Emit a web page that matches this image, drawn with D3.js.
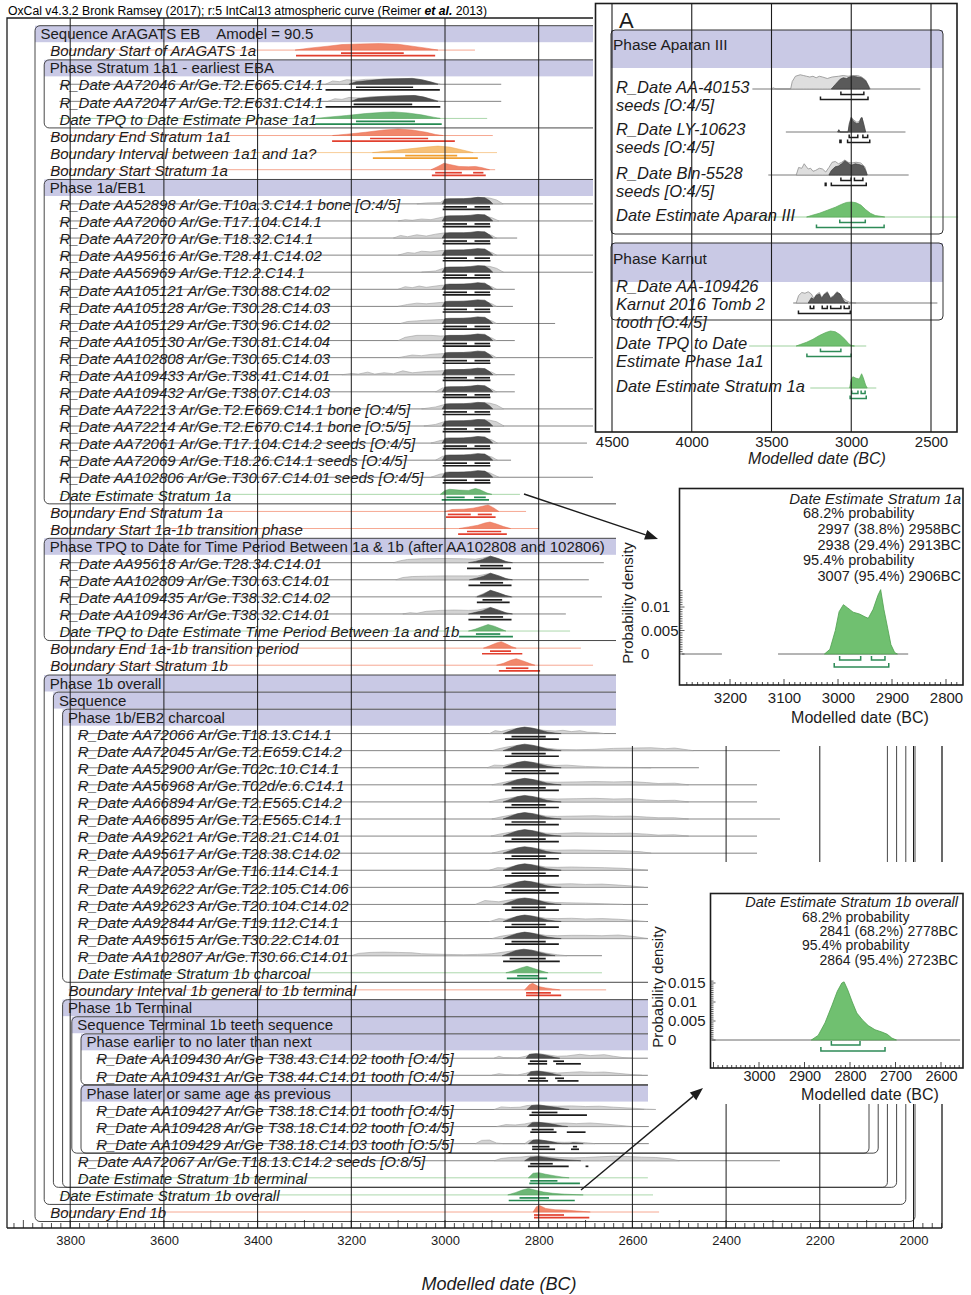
<!DOCTYPE html>
<html>
<head>
<meta charset="utf-8">
<script src="https://cdn.jsdelivr.net/npm/d3@7"></script>
<style>
  body { margin: 0; background: #fff; }
  svg { display: block; font-family: "Liberation Sans", Arial, sans-serif; }
</style>
</head>
<body>
<svg id="chart" width="971" height="1295"></svg>
<script>
// ---------- data ----------
const mainTicks = [3800, 3600, 3400, 3200, 3000, 2800, 2600, 2400, 2200, 2000];

const rowLabels = [
  "Sequence ArAGATS EB    Amodel = 90.5",
  "Boundary Start of ArAGATS 1a",
  "Phase Stratum 1a1 - earliest EBA",
  "R_Date AA72046 Ar/Ge.T2.E665.C14.1",
  "R_Date AA72047 Ar/Ge.T2.E631.C14.1",
  "Date TPQ to Date Estimate Phase 1a1",
  "Boundary End Stratum 1a1",
  "Boundary Interval between 1a1 and 1a?",
  "Boundary Start Stratum 1a",
  "Phase 1a/EB1",
  "R_Date AA52898 Ar/Ge.T10a.3.C14.1 bone [O:4/5]",
  "R_Date AA72060 Ar/Ge.T17.104.C14.1",
  "R_Date AA72070 Ar/Ge.T18.32.C14.1",
  "R_Date AA95616 Ar/Ge.T28.41.C14.02",
  "R_Date AA56969 Ar/Ge.T12.2.C14.1",
  "R_Date AA105121 Ar/Ge.T30.88.C14.02",
  "R_Date AA105128 Ar/Ge.T30.28.C14.03",
  "R_Date AA105129 Ar/Ge.T30.96.C14.02",
  "R_Date AA105130 Ar/Ge.T30.81.C14.04",
  "R_Date AA102808 Ar/Ge.T30.65.C14.03",
  "R_Date AA109433 Ar/Ge.T38.41.C14.01",
  "R_Date AA109432 Ar/Ge.T38.07.C14.03",
  "R_Date AA72213 Ar/Ge.T2.E669.C14.1 bone [O:4/5]",
  "R_Date AA72214 Ar/Ge.T2.E670.C14.1 bone [O:5/5]",
  "R_Date AA72061 Ar/Ge.T17.104.C14.2 seeds [O:4/5]",
  "R_Date AA72069 Ar/Ge.T18.26.C14.1 seeds [O:4/5]",
  "R_Date AA102806 Ar/Ge.T30.67.C14.01 seeds [O:4/5]",
  "Date Estimate Stratum 1a",
  "Boundary End Stratum 1a",
  "Boundary Start 1a-1b transition phase",
  "Phase TPQ to Date for Time Period Between 1a & 1b (after AA102808 and 102806)",
  "R_Date AA95618 Ar/Ge.T28.34.C14.01",
  "R_Date AA102809 Ar/Ge.T30.63.C14.01",
  "R_Date AA109435 Ar/Ge.T38.32.C14.02",
  "R_Date AA109436 Ar/Ge.T38.32.C14.01",
  "Date TPQ to Date Estimate Time Period Between 1a and 1b",
  "Boundary End 1a-1b transition period",
  "Boundary Start Stratum 1b",
  "Phase 1b overall",
  "Sequence",
  "Phase 1b/EB2 charcoal",
  "R_Date AA72066 Ar/Ge.T18.13.C14.1",
  "R_Date AA72045 Ar/Ge.T2.E659.C14.2",
  "R_Date AA52900 Ar/Ge.T02c.10.C14.1",
  "R_Date AA56968 Ar/Ge.T02d/e.6.C14.1",
  "R_Date AA66894 Ar/Ge.T2.E565.C14.2",
  "R_Date AA66895 Ar/Ge.T2.E565.C14.1",
  "R_Date AA92621 Ar/Ge.T28.21.C14.01",
  "R_Date AA95617 Ar/Ge.T28.38.C14.02",
  "R_Date AA72053 Ar/Ge.T16.114.C14.1",
  "R_Date AA92622 Ar/Ge.T22.105.C14.06",
  "R_Date AA92623 Ar/Ge.T20.104.C14.02",
  "R_Date AA92844 Ar/Ge.T19.112.C14.1",
  "R_Date AA95615 Ar/Ge.T30.22.C14.01",
  "R_Date AA102807 Ar/Ge.T30.66.C14.01",
  "Date Estimate Stratum 1b charcoal",
  "Boundary Interval 1b general to 1b terminal",
  "Phase 1b Terminal",
  "Sequence Terminal 1b teeth sequence",
  "Phase earlier to no later than next",
  "R_Date AA109430 Ar/Ge T38.43.C14.02 tooth [O:4/5]",
  "R_Date AA109431 Ar/Ge T38.44.C14.01 tooth [O:4/5]",
  "Phase later or same age as previous",
  "R_Date AA109427 Ar/Ge T38.18.C14.01 tooth [O:4/5]",
  "R_Date AA109428 Ar/Ge T38.18.C14.02 tooth [O:4/5]",
  "R_Date AA109429 Ar/Ge T38.18.C14.03 tooth [O:5/5]",
  "R_Date AA72067 Ar/Ge.T18.13.C14.2 seeds [O:8/5]",
  "Date Estimate Stratum 1b terminal",
  "Date Estimate Stratum 1b overall",
  "Boundary End 1b"
];

// kind letter + nesting depth (G group, B boundary, I interval, R R_Date, E estimate)
const rowKinds = [
  "G0", "B1", "G1", "R2", "R2", "E2", "B1", "I1", "B1", "G1",
  "R2", "R2", "R2", "R2", "R2", "R2", "R2", "R2", "R2", "R2",
  "R2", "R2", "R2", "R2", "R2", "R2", "R2", "E2", "B1", "B1",
  "G1", "R2", "R2", "R2", "R2", "E2", "B1", "B1", "G1", "G2",
  "G3", "R4", "R4", "R4", "R4", "R4", "R4", "R4", "R4", "R4",
  "R4", "R4", "R4", "R4", "R4", "E4", "B3", "G3", "G4", "G5",
  "R6", "R6", "G5", "R6", "R6", "R6", "R4", "E4", "E2", "B1"
];

// year (BC) where each row's line ends
const lineEnd = [
  null, 2936, null, 2880, 2880, 2910, 2898, 2889, 2893, null,
  2650, 2650, 2846, 2650, 2650, 2851, 2855, 2765, 2851, 2650,
  2851, 2851, 2650, 2650, 2697, 2859, 2650, 2840, 2827, 2799,
  null, 2661, 2693, 2665, 2742, 2733, 2710, 2684, null, null,
  null, 2560, 2285, 2458, 2334, 2334, 2285, 2334, 2334, 2562,
  2562, 2450, 2450, 2567, 2665, 2665, 2656, null, null, null,
  2567, 2567, null, 2575, 2565, 2565, 2285, 2567, 2556, 2543
];

// shared shapes: [year, relative height, ...]
const dark1a = [3006,0, 3000,0.75, 2990,0.8, 2960,0.8, 2945,0.85, 2930,1.0, 2915,0.95, 2905,0.5, 2898,0];
const dark1b = [2876,0, 2863,0.35, 2846,0.8, 2830,1.0, 2815,0.85, 2798,0.55, 2782,0.25, 2765,0.08, 2752,0];
const r68_1a = [[3003,2953],[2937,2904]];
const r95_1a = [[3005,2903]];
const r68_1b = [[2858,2785]];
const r95_1b = [[2872,2757]];

// modelled (or boundary / estimate) distribution per row
const mainShape = [
  null,
  [3320,0, 3290,0.3, 3250,0.6, 3220,0.85, 3180,0.95, 3140,1.0, 3100,0.9, 3070,0.6, 3040,0.3, 3015,0],
  null,
  [3205,0, 3190,0.4, 3160,0.6, 3130,0.8, 3100,0.85, 3070,0.9, 3050,0.7, 3030,0.35, 3015,0],
  [3200,0, 3185,0.45, 3150,0.65, 3120,0.8, 3090,0.85, 3065,0.9, 3045,0.65, 3028,0.3, 3015,0],
  [3275,0, 3250,0.2, 3210,0.45, 3170,0.75, 3130,0.95, 3110,1.0, 3080,0.85, 3050,0.55, 3025,0.2, 3010,0],
  [3240,0, 3210,0.2, 3170,0.5, 3130,0.85, 3100,1.0, 3070,0.85, 3040,0.5, 3020,0.15, 3004,0],
  [3155,0, 3120,0.25, 3080,0.55, 3040,0.85, 3015,1.0, 2990,0.85, 2965,0.45, 2940,0],
  [3030,0, 3015,0.5, 3002,1.0, 2990,0.8, 2970,0.5, 2950,0.45, 2935,0.5, 2920,0.3, 2905,0],
  null,
  dark1a, dark1a, dark1a, dark1a, dark1a, dark1a, dark1a, dark1a, dark1a, dark1a,
  dark1a, dark1a, dark1a, dark1a, dark1a, dark1a, dark1a,
  [3010,0, 3000,0.6, 2990,0.78, 2970,0.65, 2950,0.6, 2935,0.9, 2925,0.7, 2910,0.2, 2900,0],
  [3000,0, 2985,0.3, 2960,0.35, 2940,0.5, 2920,0.8, 2908,1.0, 2895,0.5, 2885,0],
  [2970,0, 2950,0.25, 2930,0.5, 2915,0.85, 2904,1.0, 2890,0.7, 2875,0.3, 2860,0],
  null,
  [2950,0, 2935,0.2, 2920,0.5, 2903,1.0, 2885,0.6, 2870,0.2, 2856,0],
  [2948,0, 2933,0.25, 2918,0.55, 2903,1.0, 2885,0.6, 2870,0.2, 2856,0],
  [2932,0, 2918,0.4, 2903,1.0, 2885,0.6, 2870,0.2, 2858,0],
  [2950,0, 2935,0.25, 2920,0.5, 2903,1.0, 2885,0.55, 2870,0.2, 2856,0],
  [2950,0, 2935,0.3, 2920,0.7, 2908,1.0, 2895,0.75, 2880,0.3, 2870,0],
  [2918,0, 2905,0.35, 2890,0.8, 2880,1.0, 2868,0.6, 2858,0.25, 2848,0],
  [2890,0, 2875,0.3, 2860,0.75, 2848,1.0, 2835,0.7, 2820,0.3, 2808,0],
  null, null, null,
  dark1b, dark1b, dark1b, dark1b, dark1b, dark1b, dark1b,
  dark1b, dark1b, dark1b, dark1b, dark1b, dark1b,
  [2878,0, 2865,0.35, 2848,0.8, 2832,1.0, 2815,0.85, 2798,0.5, 2780,0.2, 2765,0],
  [2870,0, 2855,0.3, 2838,0.75, 2825,1.0, 2812,0.7, 2795,0.3, 2780,0],
  [2830,0, 2820,0.8, 2813,1.0, 2800,0.5, 2785,0.3, 2770,0.15, 2755,0],
  null, null, null,
  [2827,0, 2820,0.6, 2805,0.7, 2790,0.55, 2775,0.3, 2765,0.1, 2755,0],
  [2825,0, 2817,0.55, 2803,0.65, 2788,0.5, 2773,0.3, 2762,0.1, 2752,0],
  null,
  [2825,0, 2815,0.6, 2800,0.7, 2780,0.5, 2760,0.3, 2745,0.1, 2735,0],
  [2824,0, 2814,0.6, 2800,0.65, 2782,0.5, 2765,0.3, 2750,0.1, 2738,0],
  [2822,0, 2812,0.55, 2800,0.6, 2785,0.45, 2770,0.25, 2760,0.1, 2750,0, 2735,0, 2728,0.15, 2715,0.1, 2705,0],
  [2830,0, 2818,0.55, 2800,0.65, 2785,0.5, 2765,0.3, 2745,0.15, 2720,0.05, 2710,0],
  [2822,0, 2812,0.7, 2800,0.8, 2785,0.55, 2765,0.3, 2748,0.1, 2735,0],
  [2866,0, 2850,0.35, 2835,0.75, 2822,1.0, 2808,0.75, 2790,0.45, 2770,0.25, 2745,0.12, 2720,0.04, 2705,0],
  [2812,0, 2805,0.8, 2798,1.0, 2785,0.55, 2765,0.35, 2745,0.3, 2725,0.2, 2705,0.08, 2690,0]
];

// unmodelled calibrated distribution (R_Date rows only)
const lightShape = [
  null, null, null,
  [3255,0, 3240,0.5, 3225,0.4, 3210,0.7, 3190,0.6, 3170,0.75, 3130,0.8, 3100,0.85, 3070,0.9, 3050,0.7, 3030,0.35, 3010,0],
  [3250,0, 3235,0.4, 3220,0.3, 3205,0.6, 3180,0.5, 3160,0.7, 3120,0.8, 3090,0.85, 3065,0.9, 3045,0.65, 3028,0.3, 3010,0],
  null, null, null, null, null,
  [3060,0, 3040,0.15, 3010,0.2, 3000,0.7, 2960,0.8, 2930,1.0, 2905,0.9, 2890,0.6, 2876,0],
  [3100,0, 3085,0.2, 3070,0.1, 3050,0.3, 3030,0.2, 3005,0.6, 2960,0.8, 2930,1.0, 2900,0.5, 2885,0],
  [3110,0, 3095,0.4, 3080,0.2, 3060,0.5, 3040,0.3, 3020,0.6, 3000,0.8, 2960,0.8, 2930,1.0, 2900,0.4, 2890,0],
  [3100,0, 3080,0.4, 3065,0.3, 3050,0.6, 3030,0.5, 3010,0.7, 2960,0.8, 2930,1.0, 2900,0.4, 2890,0],
  [3050,0, 3020,0.2, 3000,0.7, 2960,0.8, 2930,1.0, 2905,0.9, 2890,0.6, 2875,0],
  [3100,0, 3085,0.4, 3070,0.25, 3055,0.5, 3040,0.3, 3010,0.6, 2960,0.8, 2930,1.0, 2900,0.4, 2890,0],
  [3100,0, 3080,0.3, 3060,0.5, 3040,0.4, 3010,0.6, 2960,0.8, 2930,1.0, 2900,0.4, 2890,0],
  [3095,0, 3080,0.3, 3060,0.4, 3040,0.5, 3010,0.6, 2960,0.8, 2930,1.0, 2900,0.4, 2890,0],
  [3100,0, 3085,0.5, 3060,0.8, 3030,0.8, 3010,0.7, 2960,0.8, 2930,1.0, 2900,0.4, 2890,0],
  [3100,0, 3085,0.2, 3070,0.4, 3050,0.3, 3030,0.5, 3010,0.6, 2960,0.8, 2930,1.0, 2900,0.4, 2890,0],
  [3220,0, 3200,0.2, 3185,0.1, 3165,0.4, 3150,0.1, 3130,0.3, 3110,0.15, 3090,0.6, 3070,0.3, 3040,0.5, 3010,0.6, 2960,0.8, 2930,1.0, 2900,0.4, 2890,0],
  [3020,0, 3005,0.6, 2960,0.8, 2930,1.0, 2900,0.4, 2890,0],
  [3050,0, 3020,0.3, 3000,0.7, 2960,0.8, 2930,1.0, 2905,0.9, 2890,0.6, 2875,0],
  [3045,0, 3020,0.25, 3000,0.7, 2960,0.8, 2930,1.0, 2905,0.9, 2890,0.65, 2874,0],
  [3030,0, 3010,0.4, 2960,0.8, 2930,1.0, 2900,0.5, 2888,0],
  [3020,0, 3005,0.6, 2960,0.8, 2930,1.0, 2900,0.5, 2888,0],
  [3030,0, 3010,0.5, 2960,0.8, 2930,1.0, 2905,0.7, 2885,0],
  null, null, null, null,
  [3110,0, 3095,0.3, 3080,0.5, 3050,0.6, 3000,0.65, 2960,0.6, 2935,0.55, 2920,0.7, 2903,1.0, 2885,0.6, 2866,0],
  [3105,0, 3090,0.35, 3070,0.5, 3040,0.55, 3000,0.6, 2960,0.6, 2930,0.6, 2903,1.0, 2885,0.6, 2866,0],
  [2935,0, 2920,0.45, 2903,1.0, 2885,0.6, 2870,0.2, 2856,0],
  [3090,0, 3075,0.2, 3060,0.1, 3040,0.4, 3010,0.55, 2980,0.6, 2950,0.55, 2930,0.6, 2903,1.0, 2885,0.6, 2866,0],
  null, null, null, null, null, null,
  [2905,0, 2893,0.45, 2880,0.3, 2865,0.6, 2835,0.9, 2810,0.8, 2790,0.5, 2765,0.4, 2748,0.5, 2730,0.3, 2712,0.45, 2695,0.2, 2675,0.15, 2660,0],
  [2900,0, 2885,0.3, 2865,0.6, 2835,0.9, 2810,0.8, 2785,0.4, 2760,0.2, 2720,0.15, 2680,0.2, 2640,0.35, 2600,0.4, 2560,0.45, 2530,0.3, 2510,0.4, 2490,0.2, 2470,0],
  [2910,0, 2895,0.4, 2875,0.35, 2860,0.6, 2835,0.9, 2810,0.8, 2785,0.5, 2765,0.35, 2740,0.4, 2700,0.2, 2660,0.1, 2600,0.05, 2560,0],
  [2900,0, 2880,0.3, 2860,0.6, 2835,0.9, 2810,0.8, 2785,0.45, 2760,0.4, 2720,0.45, 2680,0.5, 2640,0.45, 2605,0.5, 2570,0.35, 2545,0.2, 2510,0.25, 2480,0],
  [2905,0, 2885,0.35, 2862,0.6, 2835,0.9, 2810,0.8, 2785,0.5, 2760,0.45, 2720,0.5, 2680,0.55, 2640,0.45, 2605,0.5, 2570,0.3, 2545,0.2, 2510,0.25, 2480,0],
  [2900,0, 2882,0.3, 2860,0.6, 2835,0.9, 2810,0.8, 2785,0.45, 2760,0.4, 2720,0.45, 2680,0.5, 2640,0.4, 2605,0.45, 2570,0.3, 2545,0.2, 2510,0.2, 2480,0],
  [2902,0, 2884,0.3, 2860,0.6, 2835,0.9, 2810,0.8, 2785,0.45, 2760,0.4, 2720,0.5, 2680,0.45, 2640,0.4, 2605,0.45, 2570,0.3, 2545,0.15, 2510,0.2, 2480,0],
  [2900,0, 2880,0.35, 2860,0.6, 2835,0.9, 2810,0.8, 2785,0.5, 2760,0.45, 2725,0.5, 2690,0.45, 2650,0.4, 2610,0.35, 2580,0.2, 2560,0],
  [2905,0, 2888,0.4, 2870,0.35, 2855,0.6, 2835,0.9, 2810,0.8, 2785,0.5, 2760,0.45, 2730,0.5, 2700,0.45, 2660,0.4, 2620,0.3, 2580,0.1, 2565,0],
  [2900,0, 2882,0.35, 2860,0.6, 2835,0.9, 2810,0.8, 2785,0.5, 2760,0.5, 2730,0.55, 2700,0.45, 2665,0.5, 2630,0.35, 2600,0.2, 2575,0],
  [2935,0, 2915,0.6, 2900,0.5, 2885,0.4, 2870,0.6, 2840,0.95, 2812,0.85, 2790,0.5, 2765,0.3, 2740,0.25, 2700,0.2, 2660,0.1, 2620,0],
  [2905,0, 2885,0.45, 2870,0.35, 2855,0.6, 2835,0.9, 2810,0.8, 2785,0.5, 2760,0.45, 2730,0.5, 2700,0.4, 2665,0.45, 2630,0.35, 2600,0.2, 2570,0],
  [2900,0, 2882,0.35, 2860,0.6, 2835,0.9, 2810,0.8, 2785,0.5, 2760,0.45, 2730,0.5, 2700,0.5, 2665,0.45, 2630,0.55, 2600,0.35, 2575,0.1, 2565,0],
  [3200,0, 3185,0.35, 3160,0.5, 3130,0.55, 3100,0.5, 3070,0.45, 3050,0.3, 3000,0.2, 2960,0.15, 2930,0.2, 2900,0.3, 2870,0.6, 2840,0.9, 2810,0.8, 2785,0.4, 2760,0.15, 2740,0],
  null, null, null, null, null,
  [2895,0, 2885,0.3, 2875,0.1, 2845,0.05, 2828,0.3, 2815,0.65, 2800,0.7, 2780,0.5, 2760,0.3, 2740,0.35, 2712,0.6, 2690,0.4, 2660,0.55, 2640,0.3, 2620,0.1, 2600,0],
  [2900,0, 2885,0.25, 2870,0.1, 2845,0.05, 2828,0.3, 2815,0.6, 2800,0.65, 2780,0.5, 2760,0.35, 2735,0.45, 2710,0.55, 2685,0.45, 2660,0.5, 2630,0.3, 2600,0.1, 2580,0],
  null,
  [2895,0, 2880,0.4, 2860,0.3, 2840,0.35, 2825,0.6, 2805,0.7, 2785,0.55, 2760,0.5, 2730,0.55, 2700,0.45, 2670,0.5, 2640,0.35, 2600,0.2, 2570,0.05, 2550,0],
  [2890,0, 2870,0.3, 2850,0.25, 2830,0.4, 2810,0.7, 2790,0.6, 2770,0.5, 2745,0.55, 2720,0.45, 2690,0.55, 2660,0.4, 2630,0.2, 2600,0],
  [2935,0, 2922,0.5, 2905,0.55, 2890,0.1, 2875,0, 2830,0, 2820,0.5, 2805,0.6, 2785,0.45, 2765,0.25, 2745,0.2, 2720,0.25, 2700,0.15, 2680,0],
  [2895,0, 2880,0.35, 2860,0.5, 2840,0.55, 2820,0.7, 2800,0.75, 2780,0.6, 2755,0.5, 2725,0.45, 2700,0.5, 2670,0.6, 2640,0.7, 2610,0.65, 2580,0.55, 2550,0.5, 2520,0.3, 2500,0],
  null, null, null
];

const range68 = [
  null, [[3222,3088]], null, [[3190,3068]], [[3195,3070]], [[3190,3064]], [[3160,3036]], [[3085,2974]], [[3021,2964],[2940,2918]], null,
  r68_1a, r68_1a, r68_1a, r68_1a, r68_1a, r68_1a, r68_1a, r68_1a, r68_1a, r68_1a,
  r68_1a, r68_1a, r68_1a, r68_1a, r68_1a, r68_1a, r68_1a,
  [[2997,2958],[2938,2913]], [[2994,2945],[2930,2900]], [[2953,2880]],
  null, [[2925,2876]], [[2925,2876]], [[2920,2878]], [[2925,2876]], [[2934,2882]], [[2904,2859]], [[2870,2822]], null, null,
  null, r68_1b, r68_1b, r68_1b, r68_1b, r68_1b, r68_1b, r68_1b, r68_1b, r68_1b,
  r68_1b, r68_1b, r68_1b, r68_1b, [[2862,2785]], [[2846,2800]], [[2827,2774]], null, null, null,
  [[2819,2782],[2769,2746]], [[2819,2785],[2765,2746]], null, [[2815,2760]], [[2815,2768]], [[2814,2777],[2727,2718]],
  [[2818,2770]], [[2818,2760]], [[2841,2778]], [[2810,2746]]
];

const range95 = [
  null, [[3318,3021]], null, [[3255,3011]], [[3255,3010]], [[3277,3007]], [[3241,2979]], [[3154,2930]], [[3028,2913]], null,
  r95_1a, r95_1a, r95_1a, r95_1a, r95_1a, r95_1a, r95_1a, r95_1a, r95_1a, r95_1a,
  r95_1a, r95_1a, r95_1a, r95_1a, r95_1a, r95_1a, r95_1a,
  [[3007,2906]], [[2998,2892]], [[2972,2868]],
  null, [[2953,2859]], [[2950,2858]], [[2932,2862]], [[2950,2858]], [[2970,2855]], [[2921,2835]], [[2885,2797]], null, null,
  null, r95_1b, r95_1b, r95_1b, r95_1b, r95_1b, r95_1b, r95_1b, r95_1b, r95_1b,
  r95_1b, r95_1b, r95_1b, r95_1b, [[2876,2755]], [[2868,2782]], [[2827,2752]], null, null, null,
  [[2823,2782],[2763,2710]], [[2823,2780],[2760,2715]], null, [[2820,2697]], [[2818,2762],[2740,2700]], [[2814,2765],[2731,2714]],
  [[2823,2736],[2700,2694]], [[2820,2712]], [[2864,2723]], [[2810,2692]]
];

// inset A (Aparan III / Karnut)
const insetATicks = [4500, 4000, 3500, 3000, 2500];
const insetAGroups = ["Phase Aparan III", "Phase Karnut"];
const insetALabels = [
  ["R_Date AA-40153", "seeds [O:4/5]"],
  ["R_Date LY-10623", "seeds [O:4/5]"],
  ["R_Date Bln-5528", "seeds [O:4/5]"],
  ["Date Estimate Aparan III"],
  ["R_Date AA-109426", "Karnut 2016 Tomb 2", "tooth [O:4/5]"],
  ["Date TPQ to Date", "Estimate Phase 1a1"],
  ["Date Estimate Stratum 1a"]
];
const insetAKinds = ["R", "R", "R", "E", "R", "E", "E"];
const insetALine = [[3620,2567], [3410,2660], [3520,2640], [3640,2330], [3364,2460], [3640,2906], [3257,2843]];
const insetALight = [
  [3500,0, 3490,0.08, 3470,0, 3380,0, 3370,0.5, 3350,0.85, 3320,0.95, 3300,0.9, 3280,0.85, 3260,0.8, 3240,0.85, 3220,0.75, 3200,0.85, 3180,0.8, 3150,0.7, 3120,0.8, 3080,0.85, 3050,0.9, 3020,0.85, 2990,0.9, 2960,0.9, 2935,0.8, 2910,0.6, 2895,0.3, 2880,0],
  [3085,0, 3078,0.15, 3070,0, 3020,0, 3012,0.6, 3000,1.0, 2985,0.8, 2965,0.65, 2950,0.7, 2935,1.0, 2920,0.5, 2910,0],
  [3345,0, 3330,0.5, 3310,0.45, 3295,0.75, 3285,0.6, 3270,0.4, 3255,0.45, 3240,0.25, 3225,0.3, 3200,0.45, 3180,0.4, 3160,0.2, 3140,0.5, 3120,0.85, 3100,0.9, 3080,0.75, 3060,0.85, 3040,1.0, 3020,0.85, 3000,0.8, 2970,0.85, 2940,0.8, 2915,0.55, 2900,0],
  null,
  [3345,0, 3330,0.5, 3310,0.7, 3290,0.65, 3270,0.75, 3250,0.6, 3235,0.3, 3220,0.55, 3200,0.7, 3185,0.35, 3170,0.6, 3150,0.75, 3130,0.35, 3110,0.5, 3090,0.75, 3070,0.6, 3055,0.35, 3030,0.15, 3010,0.05, 2990,0.02, 2970,0],
  null,
  null
];
const insetAMain = [
  [3125,0, 3100,0.3, 3070,0.65, 3050,0.75, 3030,0.7, 3010,0.8, 2990,0.85, 2960,0.8, 2935,0.75, 2910,0.55, 2895,0.25, 2885,0],
  [3085,0, 3078,0.15, 3070,0, 3020,0, 3012,0.5, 3000,0.95, 2985,0.7, 2965,0.55, 2950,0.6, 2940,0.9, 2932,0.95, 2920,0.4, 2910,0],
  [3140,0, 3125,0.3, 3100,0.55, 3080,0.6, 3060,0.75, 3040,0.95, 3020,0.8, 3000,0.65, 2975,0.75, 2950,0.7, 2925,0.6, 2910,0.3, 2900,0],
  [3280,0, 3250,0.1, 3200,0.25, 3150,0.45, 3100,0.65, 3060,0.85, 3030,0.97, 3000,1.0, 2970,0.95, 2940,0.8, 2910,0.5, 2880,0.25, 2850,0.1, 2800,0.02, 2790,0],
  [3270,0, 3250,0.35, 3235,0.25, 3220,0.5, 3200,0.6, 3185,0.3, 3170,0.55, 3150,0.7, 3130,0.3, 3110,0.45, 3090,0.7, 3070,0.6, 3055,0.3, 3040,0.05, 3020,0],
  [3345,0, 3320,0.1, 3280,0.25, 3240,0.45, 3200,0.7, 3160,0.9, 3130,1.0, 3100,0.95, 3070,0.75, 3040,0.45, 3015,0.15, 3000,0.03, 2980,0],
  [3010,0, 3000,0.6, 2990,0.75, 2970,0.65, 2950,0.6, 2935,0.95, 2925,0.7, 2910,0.2, 2900,0]
];
const insetA68 = [
  [[3065,2921]], [[3013,2959],[2927,2897]], [[3065,3001],[2980,2927]], [[3072,2912]],
  [[3257,3235],[3182,3150],[3129,3065],[3044,3013]], [[3193,3065]], [[2997,2958],[2938,2913]]
];
const insetA95 = [
  [[3193,2895]], [[3071,3064],[3023,2884]], [[3163,3158],[3125,2906]], [[3218,2794]],
  [[3331,3006]], [[3278,3001]], [[3007,2906]]
];

// inset: Date Estimate Stratum 1a
const inset1aTicks = [3200, 3100, 3000, 2900, 2800];
const inset1aYTicks = [0, 0.005, 0.01];
const inset1aTitle = "Date Estimate Stratum 1a";
const inset1aText = ["68.2% probability", "2997 (38.8%) 2958BC", "2938 (29.4%) 2913BC", "95.4% probability", "3007 (95.4%) 2906BC"];
const inset1aLine = [[3289,3215], [3111,2870]];
const inset1aDensity = [3025,0, 3015,0.001, 3005,0.005, 2998,0.009, 2990,0.0105, 2982,0.0098, 2972,0.0089, 2960,0.0085, 2950,0.0079, 2944,0.0076, 2935,0.0095, 2926,0.0125, 2921,0.0137, 2915,0.0095, 2908,0.0055, 2902,0.002, 2895,0.0003, 2890,0];
const inset1a68 = [[2997,2958],[2938,2913]];
const inset1a95 = [[3007,2906]];

// inset: Date Estimate Stratum 1b overall
const inset1bTicks = [3000, 2900, 2800, 2700, 2600];
const inset1bYTicks = [0, 0.005, 0.01, 0.015];
const inset1bTitle = "Date Estimate Stratum 1b overall";
const inset1bText = ["68.2% probability", "2841 (68.2%) 2778BC", "95.4% probability", "2864 (95.4%) 2723BC"];
const inset1bLine = [[3103,2558]];
const inset1bDensity = [2885,0, 2870,0.0012, 2855,0.0045, 2840,0.009, 2828,0.0128, 2818,0.0150, 2813,0.0153, 2805,0.0132, 2795,0.0100, 2785,0.0071, 2772,0.0052, 2760,0.0038, 2745,0.0027, 2730,0.0021, 2718,0.0015, 2708,0.0005, 2698,0];
const inset1b68 = [[2841,2778]];
const inset1b95 = [[2864,2723]];

// ---------- drawing ----------
const svg = d3.select("#chart");
const pairs = flat => d3.range(0, flat.length, 2).map(i => [flat[i], flat[i + 1]]);
const fmt = d3.format("d");

const band = "#c9c9e5";
const ink = "#1c1c1c";
const kindStyle = {
  B: { line: "#f6a892", fill: "#f1876b", stroke: "#e46a50", br: "#e2402f" },
  I: { line: "#f8cd98", fill: "#f6c077", stroke: "#eda64c", br: "#f09f30" },
  E: { line: "#acd8ac", fill: "#6db776", stroke: "#519e5b", br: "#268a52" },
  R: { line: "#858585", fill: "#4f4f4f", stroke: "#3b3b3b", br: ink }
};

const x = d3.scaleLinear().domain([3800, 2000]).range([70.2, 913.5]);
const rowY = d3.scaleLinear().domain([0, 69]).range([34, 1213]);
const H = 6.5;
const boxLeft = d => 35 + 9.2 * d;
const boxRight = d => 950 - boxLeft(d);

const main = svg.append("g");

// title
main.append("text")
  .attr("x", 8).attr("y", 14.5)
  .attr("font-size", 12)
  .attr("textLength", 479).attr("lengthAdjust", "spacingAndGlyphs")
  .html('OxCal v4.3.2 Bronk Ramsey (2017); r:5 IntCal13 atmospheric curve (Reimer <tspan font-style="italic" font-weight="bold">et al.</tspan> 2013)');

// groups: header row -> last nested row
const groups = [];
rowKinds.forEach((k, i) => {
  if (k[0] !== "G") return;
  const d = +k[1];
  let last = i;
  while (last + 1 < rowKinds.length && +rowKinds[last + 1][1] > d) last++;
  groups.push({ i, d, last });
});

// header bands
groups.forEach(g => {
  main.append("rect")
    .attr("x", boxLeft(g.d)).attr("y", rowY(g.i) - 8.3)
    .attr("width", boxRight(g.d) - boxLeft(g.d)).attr("height", 16.5)
    .attr("fill", band);
});

// row lines, distributions, ranges
const rowsG = main.append("g");
rowLabels.forEach((lab, i) => {
  const k = rowKinds[i][0], d = +rowKinds[i][1];
  if (k === "G") return;
  const st = kindStyle[k];
  const yb = rowY(i) - 1;
  rowsG.append("line")
    .attr("x1", 41 + 9.2 * d).attr("x2", x(lineEnd[i]))
    .attr("y1", yb).attr("y2", yb)
    .attr("stroke", st.line).attr("stroke-width", 1);
  const area = d3.area().x(p => x(p[0])).y0(yb).y1(p => yb - p[1] * H);
  if (lightShape[i]) {
    rowsG.append("path").datum(pairs(lightShape[i])).attr("d", area)
      .attr("fill", "#d3d3d3").attr("stroke", "#a0a0a0").attr("stroke-width", 0.6);
  }
  rowsG.append("path").datum(pairs(mainShape[i])).attr("d", area)
    .attr("fill", st.fill).attr("stroke", st.stroke).attr("stroke-width", 0.5);
  range68[i].forEach(r => {
    rowsG.append("line").attr("x1", x(r[0])).attr("x2", x(r[1]))
      .attr("y1", yb + 3).attr("y2", yb + 3)
      .attr("stroke", st.br).attr("stroke-width", 1.7);
  });
  range95[i].forEach(r => {
    rowsG.append("line").attr("x1", x(r[0])).attr("x2", x(r[1]))
      .attr("y1", yb + 5.6).attr("y2", yb + 5.6)
      .attr("stroke", st.br).attr("stroke-width", 1.7);
  });
});

// group outlines
groups.forEach(g => {
  main.append("rect")
    .attr("x", boxLeft(g.d)).attr("y", rowY(g.i) - 8.3)
    .attr("width", boxRight(g.d) - boxLeft(g.d))
    .attr("height", rowY(g.last) - rowY(g.i) + 16.8)
    .attr("rx", 5)
    .attr("fill", "none").attr("stroke", "#333").attr("stroke-width", 0.9);
});

// labels
rowLabels.forEach((lab, i) => {
  const k = rowKinds[i][0], d = +rowKinds[i][1];
  main.append("text")
    .attr("x", k === "G" ? boxLeft(d) + 5.5 : 41 + 9.2 * d)
    .attr("y", rowY(i) + 5.2)
    .attr("font-size", 15)
    .attr("font-style", k === "G" ? "normal" : "italic")
    .style("white-space", "pre")
    .attr("fill", ink)
    .text(lab);
});

// gridlines
mainTicks.forEach(t => {
  main.append("line").attr("x1", x(t)).attr("x2", x(t))
    .attr("y1", 18).attr("y2", 1228)
    .attr("stroke", ink).attr("stroke-width", 1);
});

// frame
main.append("path")
  .attr("d", "M7,1228 V18 H942 V1228")
  .attr("fill", "none").attr("stroke", ink).attr("stroke-width", 1.3);

// bottom axis
const axisG = main.append("g").attr("transform", "translate(0,1228)");
axisG.call(d3.axisBottom(x).tickValues(mainTicks).tickFormat(fmt).tickSize(0).tickPadding(8));
axisG.select(".domain").remove();
axisG.selectAll("text")
  .attr("font-size", 13).attr("font-family", "Liberation Sans, Arial, sans-serif")
  .attr("fill", ink);
main.append("line").attr("x1", 7).attr("x2", 942).attr("y1", 1228).attr("y2", 1228)
  .attr("stroke", ink).attr("stroke-width", 1.5);
d3.range(3920, 1939, -20).forEach(t => {
  main.append("line").attr("x1", x(t)).attr("x2", x(t))
    .attr("y1", 1228).attr("y2", 1228 - (t % 100 === 0 ? 8 : 5))
    .attr("stroke", ink).attr("stroke-width", 0.8);
});
main.append("text")
  .attr("x", 499).attr("y", 1290)
  .attr("text-anchor", "middle").attr("font-size", 18).attr("font-style", "italic")
  .attr("fill", ink)
  .text("Modelled date (BC)");

// ---------- inset A ----------
const ia = svg.append("g");
ia.append("rect").attr("x", 593).attr("y", 0).attr("width", 378).attr("height", 482).attr("fill", "#fff");
const xa = d3.scaleLinear().domain([4500, 2500]).range([612, 931]);
const Ha = 15;
ia.append("rect").attr("x", 611).attr("y", 30).attr("width", 332).attr("height", 38).attr("fill", band);
ia.append("rect").attr("x", 611).attr("y", 243).attr("width", 332).attr("height", 39).attr("fill", band);
const insetABase = [89, 132, 175, 217, 303, 346, 388];
const insetAText = [87, 129, 173, 215, 286, 343, 386];
insetALabels.forEach((lines, i) => {
  const yb = insetABase[i];
  const isR = insetAKinds[i] === "R";
  ia.append("line").attr("x1", xa(insetALine[i][0])).attr("x2", xa(insetALine[i][1]))
    .attr("y1", yb).attr("y2", yb)
    .attr("stroke", isR ? "#7a7a7a" : "#9fd19f").attr("stroke-width", 1);
  const area = d3.area().x(p => xa(p[0])).y0(yb).y1(p => yb - p[1] * Ha);
  if (insetALight[i]) {
    ia.append("path").datum(pairs(insetALight[i])).attr("d", area)
      .attr("fill", "#dedede").attr("stroke", "#8f8f8f").attr("stroke-width", 0.8);
  }
  ia.append("path").datum(pairs(insetAMain[i])).attr("d", area)
    .attr("fill", isR ? "#5a5a5a" : "#70c070").attr("stroke", isR ? "#3d3d3d" : "#5aa85a").attr("stroke-width", 0.7);
  const brc = isR ? ink : "#2e8b57";
  const bracket = (r, yy) => ia.append("path")
    .attr("d", `M${xa(r[0])},${yy - 3}V${yy}H${xa(r[1])}V${yy - 3}`)
    .attr("fill", "none").attr("stroke", brc).attr("stroke-width", 1.5);
  insetA68[i].forEach(r => bracket(r, yb + 5.5));
  insetA95[i].forEach(r => bracket(r, yb + 10.5));
  lines.forEach((t, j) => {
    ia.append("text").attr("x", 616).attr("y", insetAText[i] + 5.5 + j * 18.3)
      .attr("font-size", 16.5).attr("font-style", "italic").attr("fill", ink).text(t);
  });
});
ia.append("rect").attr("x", 611).attr("y", 30).attr("width", 332).attr("height", 204).attr("rx", 4)
  .attr("fill", "none").attr("stroke", "#333").attr("stroke-width", 1);
ia.append("rect").attr("x", 611).attr("y", 243).attr("width", 332).attr("height", 77).attr("rx", 4)
  .attr("fill", "none").attr("stroke", "#333").attr("stroke-width", 1);
ia.append("text").attr("x", 613).attr("y", 50).attr("font-size", 15.5).attr("fill", ink).text(insetAGroups[0]);
ia.append("text").attr("x", 613).attr("y", 264).attr("font-size", 15.5).attr("fill", ink).text(insetAGroups[1]);
ia.append("text").attr("x", 619).attr("y", 28).attr("font-size", 22).attr("fill", ink).text("A");
insetATicks.forEach(t => {
  ia.append("line").attr("x1", xa(t)).attr("x2", xa(t)).attr("y1", 3).attr("y2", 432)
    .attr("stroke", ink).attr("stroke-width", 1.1);
});
ia.append("rect").attr("x", 595.5).attr("y", 3.5).attr("width", 361.5).attr("height", 428.5)
  .attr("fill", "none").attr("stroke", ink).attr("stroke-width", 1.6);
const axA = ia.append("g").attr("transform", "translate(0,432)")
  .call(d3.axisBottom(xa).tickValues(insetATicks).tickFormat(fmt).tickSize(0).tickPadding(4));
axA.select(".domain").remove();
axA.selectAll("text").attr("font-size", 15).attr("fill", ink).attr("font-family", "Liberation Sans, Arial, sans-serif");
ia.append("text").attr("x", 817).attr("y", 464).attr("text-anchor", "middle")
  .attr("font-size", 16).attr("font-style", "italic").attr("fill", ink).text("Modelled date (BC)");

// ---------- density insets ----------
function densityInset(o) {
  const g = svg.append("g");
  g.append("rect").attr("x", o.bg[0]).attr("y", o.bg[1]).attr("width", o.bg[2]).attr("height", o.bg[3]).attr("fill", "#fff");
  const [fx, fy, fw, fh] = o.frame;
  const xs = o.xs, ys = o.ys, yb = ys(0);
  o.line.forEach(s => {
    g.append("line").attr("x1", xs(s[0])).attr("x2", xs(s[1])).attr("y1", yb).attr("y2", yb)
      .attr("stroke", "#6a6a6a").attr("stroke-width", 1);
  });
  g.append("path").datum(pairs(o.density))
    .attr("d", d3.area().x(p => xs(p[0])).y0(yb).y1(p => ys(p[1])))
    .attr("fill", "#70c070").attr("stroke", "#4f9f4f").attr("stroke-width", 0.8);
  const bracket = (r, yy) => g.append("path")
    .attr("d", `M${xs(r[0])},${yy - 4}V${yy}H${xs(r[1])}V${yy - 4}`)
    .attr("fill", "none").attr("stroke", "#2e8b57").attr("stroke-width", 1.5);
  o.r68.forEach(r => bracket(r, yb + o.bOff[0]));
  o.r95.forEach(r => bracket(r, yb + o.bOff[1]));
  g.append("rect").attr("x", fx).attr("y", fy).attr("width", fw).attr("height", fh)
    .attr("fill", "none").attr("stroke", ink).attr("stroke-width", 1.6);
  // dense minor ticks along both axes
  const yrA = xs.invert(fx), yrB = xs.invert(fx + fw);
  d3.range(Math.ceil(yrB / 10) * 10, yrA, 10).forEach(t => {
    const xx = xs(t);
    if (xx < fx + 2 || xx > fx + fw - 2) return;
    g.append("line").attr("x1", xx).attr("x2", xx).attr("y1", fy + fh).attr("y2", fy + fh - (t % 100 === 0 ? 6 : 3))
      .attr("stroke", ink).attr("stroke-width", 0.8);
  });
  d3.range(0, o.yMax, 0.0005).forEach(v => {
    const big = Math.abs(v / 0.005 - Math.round(v / 0.005)) < 1e-6;
    g.append("line").attr("x1", fx).attr("x2", fx + (big ? 5 : 3)).attr("y1", ys(v)).attr("y2", ys(v))
      .attr("stroke", ink).attr("stroke-width", 0.7);
  });
  const ax = g.append("g").attr("transform", `translate(0,${fy + fh})`)
    .call(d3.axisBottom(xs).tickValues(o.ticks).tickFormat(fmt).tickSize(0).tickPadding(o.tickPad));
  ax.select(".domain").remove();
  ax.selectAll("text").attr("font-size", o.tickFont).attr("fill", ink).attr("font-family", "Liberation Sans, Arial, sans-serif");
  o.yTicks.forEach(v => {
    g.append("text").attr("x", o.yLabX).attr("y", ys(v) + 5)
      .attr("font-size", 15).attr("fill", ink).text(v === 0 ? "0" : String(v));
  });
  g.append("text").attr("transform", `translate(${o.yTitle[0]},${o.yTitle[1]}) rotate(-90)`)
    .attr("text-anchor", "middle").attr("font-size", 15).attr("fill", ink).text("Probability density");
  g.append("text").attr("x", o.xTitle[0]).attr("y", o.xTitle[1]).attr("text-anchor", "middle")
    .attr("font-size", 16).attr("fill", ink).text("Modelled date (BC)");
  g.append("text").attr("x", o.textRight).attr("y", o.textTop).attr("text-anchor", "end")
    .attr("font-size", o.titleFont).attr("font-style", "italic").attr("fill", ink).text(o.title);
  o.text.forEach((t, j) => {
    const isHead = t.indexOf("probability") >= 0;
    g.append("text").attr("x", isHead ? o.textLeft : o.textRight).attr("y", o.textYs[j])
      .attr("text-anchor", isHead ? "start" : "end")
      .attr("font-size", o.textFont).attr("fill", ink).text(t);
  });
}

densityInset({
  bg: [616, 478, 355, 268],
  frame: [679.5, 488.5, 283.5, 196.5],
  xs: d3.scaleLinear().domain([3000, 2900]).range([838, 892]),
  ys: d3.scaleLinear().domain([0, 0.01]).range([654, 607]),
  yMax: 0.0136,
  line: inset1aLine, density: inset1aDensity, r68: inset1a68, r95: inset1a95, bOff: [6, 13],
  ticks: inset1aTicks, tickPad: 7, tickFont: 15, yTicks: inset1aYTicks, yLabX: 641,
  yTitle: [633, 603], xTitle: [860, 723],
  title: inset1aTitle, titleFont: 15, text: inset1aText, textRight: 961, textLeft: 803, textFont: 14.5,
  textTop: 504, textYs: [518, 534, 550, 565, 581]
});

densityInset({
  bg: [648, 862, 323, 242],
  frame: [710.5, 893.5, 252.5, 174.5],
  xs: d3.scaleLinear().domain([2800, 2700]).range([850, 895.5]),
  ys: d3.scaleLinear().domain([0, 0.015]).range([1040, 983]),
  yMax: 0.0156,
  line: inset1bLine, density: inset1bDensity, r68: inset1b68, r95: inset1b95, bOff: [5, 11],
  ticks: inset1bTicks, tickPad: 3, tickFont: 14.5, yTicks: inset1bYTicks, yLabX: 668,
  yTitle: [663, 987], xTitle: [870, 1100],
  title: inset1bTitle, titleFont: 14.5, text: inset1bText, textRight: 958, textLeft: 802, textFont: 14,
  textTop: 907, textYs: [922, 936, 950, 965]
});

// ---------- arrows ----------
function arrow(x1, y1, x2, y2) {
  const a = Math.atan2(y2 - y1, x2 - x1), L = 13, W = 5;
  const bx = x2 - L * Math.cos(a), by = y2 - L * Math.sin(a);
  svg.append("line").attr("x1", x1).attr("y1", y1).attr("x2", bx).attr("y2", by)
    .attr("stroke", ink).attr("stroke-width", 1.4);
  svg.append("path")
    .attr("d", `M${x2},${y2}L${bx - W * Math.sin(a)},${by + W * Math.cos(a)}L${bx + W * Math.sin(a)},${by - W * Math.cos(a)}Z`)
    .attr("fill", ink);
}
arrow(524, 494, 658, 539);
arrow(581, 1190, 703, 1088);
</script>
</body>
</html>
